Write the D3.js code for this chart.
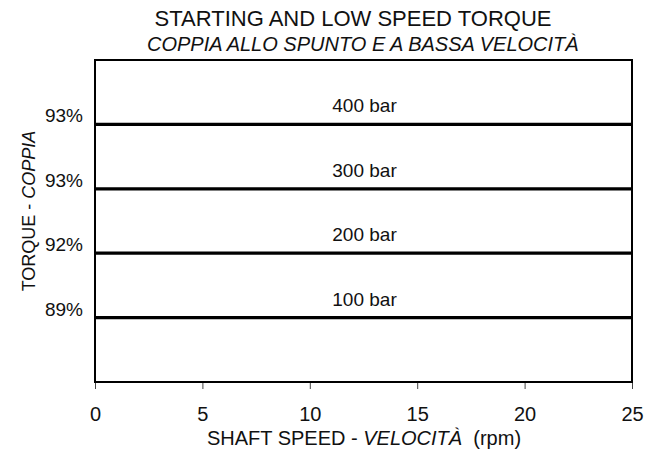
<!DOCTYPE html>
<html>
<head>
<meta charset="utf-8">
<script src="https://cdn.jsdelivr.net/npm/d3@7"></script>
<style>
  body { margin: 0; background: #fff; }
  svg text { font-family: "Liberation Sans", Arial, Helvetica, sans-serif; fill: #111; }
</style>
</head>
<body>
<div id="chart"></div>
<script>
  // series: one horizontal line per pressure, flat over the speed range
  const labels = ['400 bar', '300 bar', '200 bar', '100 bar'];
  const pressures = [400, 300, 200, 100];
  const torque = ['93%', '93%', '92%', '89%'];
  const speedRange = [0, 25];
  const xTicks = [0, 5, 10, 15, 20, 25];

  const W = 661, H = 452;
  const margin = { top: 60, right: 29, bottom: 70, left: 95 };

  const svg = d3.select('#chart').append('svg')
    .attr('width', W).attr('height', H);

  const x = d3.scaleLinear()
    .domain(speedRange)
    .range([margin.left, W - margin.right]);

  const y = d3.scaleLinear()
    .domain([0, 500])
    .range([H - margin.bottom, margin.top]);

  // titles
  svg.append('text')
    .attr('x', 353).attr('y', 26)
    .attr('text-anchor', 'middle')
    .style('font-size', '22px')
    .text('STARTING AND LOW SPEED TORQUE');

  svg.append('text')
    .attr('x', 147).attr('y', 51)
    .style('font-size', '20px')
    .style('font-style', 'italic')
    .text('COPPIA ALLO SPUNTO E A BASSA VELOCITÀ');

  // x axis
  const xAxis = svg.append('g')
    .attr('transform', `translate(0,${H - margin.bottom})`)
    .call(d3.axisBottom(x).tickValues(xTicks).tickSize(7).tickPadding(18));
  xAxis.select('.domain').remove();
  xAxis.selectAll('.tick line').attr('stroke', '#444');
  xAxis.selectAll('.tick text')
    .style('font-size', '20px')
    .style('font-family', '"Liberation Sans", Arial, sans-serif')
    .attr('fill', '#111');

  // frame
  svg.append('rect')
    .attr('x', x(speedRange[0])).attr('y', y(500))
    .attr('width', x(speedRange[1]) - x(speedRange[0]))
    .attr('height', y(0) - y(500))
    .attr('fill', 'none').attr('stroke', '#000').attr('stroke-width', 2);

  // pressure lines
  const line = d3.line().x(d => x(d[0])).y(d => y(d[1]));
  svg.selectAll('.pline')
    .data(pressures)
    .join('path')
    .attr('class', 'pline')
    .attr('d', p => line([[speedRange[0], p], [speedRange[1], p]]))
    .attr('stroke', '#000')
    .attr('stroke-width', 3.2)
    .attr('fill', 'none');

  svg.selectAll('.plabel')
    .data(pressures)
    .join('text')
    .attr('class', 'plabel')
    .attr('x', x(12.5) + 1)
    .attr('y', p => y(p) - 12)
    .attr('text-anchor', 'middle')
    .style('font-size', '19px')
    .text((p, i) => labels[i]);

  // torque values on the left
  svg.selectAll('.tlabel')
    .data(pressures)
    .join('text')
    .attr('class', 'tlabel')
    .attr('x', margin.left - 12)
    .attr('y', p => y(p) - 2)
    .attr('text-anchor', 'end')
    .style('font-size', '19px')
    .text((p, i) => torque[i]);

  // axis titles
  const xt = svg.append('text')
    .attr('x', 364).attr('y', 445)
    .attr('text-anchor', 'middle')
    .style('font-size', '20px');
  xt.append('tspan').text('SHAFT SPEED - ');
  xt.append('tspan').style('font-style', 'italic').text('VELOCITÀ');
  xt.append('tspan').text('\u00a0 (rpm)');

  const yt = svg.append('text')
    .attr('transform', 'translate(35,211) rotate(-90)')
    .attr('text-anchor', 'middle')
    .style('font-size', '18px');
  yt.append('tspan').text('TORQUE - ');
  yt.append('tspan').style('font-style', 'italic').text('COPPIA');
</script>
</body>
</html>
